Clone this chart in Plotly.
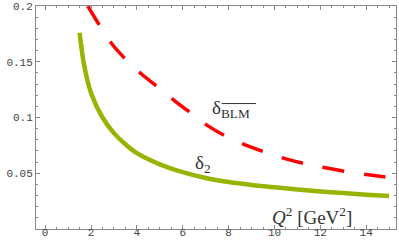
import plotly.graph_objects as go

# Green solid curve (delta_2)
q2_green = [1.5, 1.7, 2.0, 2.5, 3.0, 3.5, 4.0, 5.0, 6.0, 7.0, 8.0, 9.0, 10.0, 11.0, 12.0, 13.0, 14.0, 15.0]
delta2 = [0.176, 0.147, 0.122, 0.100, 0.086, 0.076, 0.068, 0.058, 0.051, 0.0457, 0.0421, 0.0395, 0.0374, 0.0355, 0.0337, 0.0322, 0.0308, 0.0296]

# Red dashed curve (delta_BLM)
q2_red = [1.86, 2.36, 2.87, 3.52, 4.2, 4.93, 5.65, 6.42, 7.1, 8.01, 8.84, 9.75, 10.58, 11.5, 12.4, 13.4, 14.27, 15.0]
delta_blm = [0.200, 0.183, 0.167, 0.152, 0.139, 0.127, 0.115, 0.103, 0.0925, 0.0818, 0.0745, 0.0677, 0.0625, 0.0578, 0.0542, 0.0506, 0.0482, 0.0462]

x_ticks = [0, 2, 4, 6, 8, 10, 12, 14]
y_ticks = [0.05, 0.1, 0.15, 0.2]
y_tick_labels = ["0.05", "0.1", "0.15", "0.2"]

fig = go.Figure()
fig.add_trace(go.Scatter(x=q2_red, y=delta_blm, mode="lines",
                         line=dict(color="rgb(255,0,0)", width=3.5, dash="22px,20px", shape="spline"),
                         showlegend=False, hoverinfo="skip"))
fig.add_trace(go.Scatter(x=q2_green, y=delta2, mode="lines",
                         line=dict(color="rgb(153,180,0)", width=4.5, shape="spline"),
                         showlegend=False, hoverinfo="skip"))

tickfont = dict(family="Liberation Mono, Courier New, monospace", size=11, color="#444444")
axis_common = dict(showgrid=False, zeroline=False, showline=True, linecolor="#888888", linewidth=1,
                   mirror="ticks", ticks="inside", ticklen=4, tickcolor="#888888", tickwidth=1,
                   tickfont=tickfont)

fig.update_xaxes(range=[-0.4, 15.3], tickvals=x_ticks, ticktext=[str(v) for v in x_ticks],
                 ticklabelstandoff=-7,
                 minor=dict(dtick=0.5, tick0=0, ticks="inside", ticklen=2, tickcolor="#888888"),
                 **axis_common)
fig.update_yaxes(range=[0, 0.2], tickvals=y_ticks, ticktext=y_tick_labels,
                 ticklabelstandoff=0,
                 minor=dict(dtick=0.01, tick0=0, ticks="inside", ticklen=2, tickcolor="#888888"),
                 **axis_common)

serif = dict(family="Liberation Serif", size=19, color="#333333")
fig.add_annotation(x=7.2, y=0.108, xref="x", yref="y", text="δ<sub>BLM</sub>", showarrow=False,
                   xanchor="left", yanchor="middle", font=serif)
fig.add_shape(type="line", xref="x", yref="y", x0=7.7, x1=9.2, y0=0.1125, y1=0.1125,
              line=dict(color="#333333", width=1))
fig.add_annotation(x=6.45, y=0.058, xref="x", yref="y", text="δ<sub>2</sub>", showarrow=False,
                   xanchor="left", yanchor="middle", font=serif)
fig.add_annotation(x=9.8, y=0.012, xref="x", yref="y", text="<i>Q</i><sup>2</sup> [GeV<sup>2</sup>]",
                   showarrow=False, xanchor="left", yanchor="middle", font=serif)

fig.update_layout(width=399, height=245, margin=dict(l=36, r=3, t=6, b=16, autoexpand=False),
                  plot_bgcolor="white", paper_bgcolor="white")
fig.write_html("out.html", config={"displayModeBar": False},
               post_script="document.body.style.margin='0';document.body.style.overflow='hidden';")
